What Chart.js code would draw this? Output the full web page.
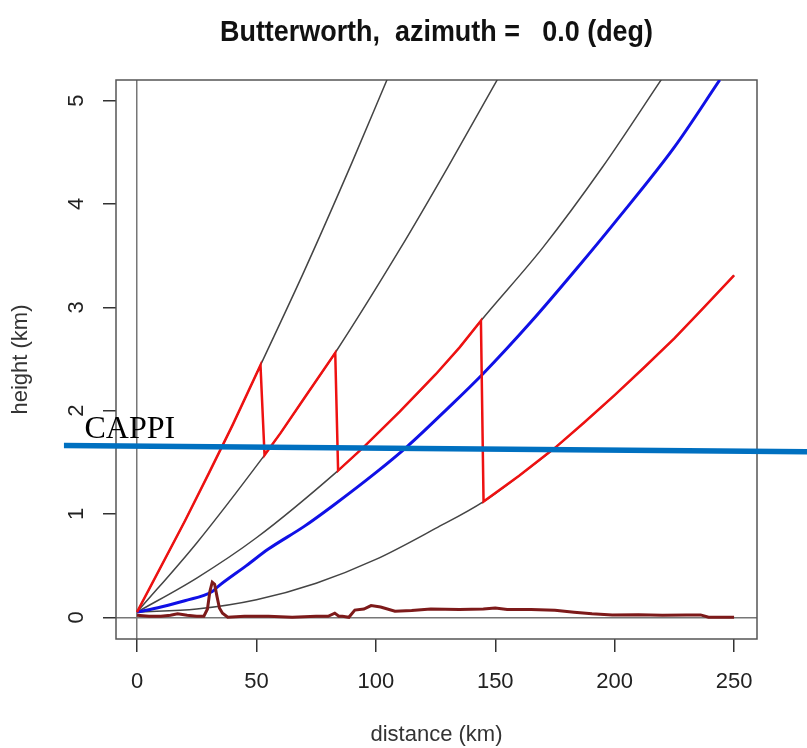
<!DOCTYPE html>
<html>
<head>
<meta charset="utf-8">
<script src="https://cdn.jsdelivr.net/npm/chart.js@4.4.1/dist/chart.umd.min.js"></script>
<style>
  html, body { margin: 0; padding: 0; background: #fff; }
</style>
</head>
<body>
<canvas id="beamChart" width="807" height="748"></canvas>
<script>
const titleText = 'Butterworth,  azimuth =   0.0 (deg)';
const xTicks = [0, 50, 100, 150, 200, 250];
const yTicks = [0, 1, 2, 3, 4, 5];

// beam centre heights (km), one array pair per elevation
const beam1X = [0, 20, 30, 40, 51.7, 70, 90, 105];
const beam1Y = [0.05, 0.93, 1.39, 1.86, 2.44, 3.35, 4.40, 5.22];
const beam2X = [0, 25, 53.4, 60, 70, 83, 110, 130, 152];
const beam2Y = [0.05, 0.72, 1.57, 1.78, 2.12, 2.56, 3.56, 4.35, 5.25];
const beam3X = [0, 25, 50, 84.2, 95, 110, 125, 135, 144, 170, 195, 220];
const beam3Y = [0.05, 0.38, 0.77, 1.42, 1.65, 1.99, 2.35, 2.61, 2.87, 3.58, 4.36, 5.22];
const beam4X = [0, 25, 50, 75, 100, 125, 145.1, 160, 175, 187, 200, 212, 225, 237, 250];
const beam4Y = [0.05, 0.08, 0.17, 0.33, 0.56, 0.86, 1.12, 1.37, 1.64, 1.88, 2.15, 2.41, 2.70, 2.99, 3.31];

// red: the beam actually used at each range
const usedX = [0, 20, 30, 40, 51.7, 53.4, 60, 70, 83, 84.2, 95, 110, 125, 135, 144, 145.1,
  160, 175, 187, 200, 212, 225, 237, 250];
const usedY = [0.05, 0.93, 1.39, 1.86, 2.44, 1.57, 1.78, 2.12, 2.56, 1.42, 1.65, 1.99, 2.35, 2.61, 2.87, 1.12,
  1.37, 1.64, 1.88, 2.15, 2.41, 2.70, 2.99, 3.31];

// blue curve
const blueX = [0, 10, 20, 31.5, 34, 45.8, 55, 70, 82, 100, 113, 130, 145, 165, 185, 200, 225, 244];
const blueY = [0.05, 0.10, 0.16, 0.25, 0.30, 0.50, 0.66, 0.88, 1.08, 1.40, 1.65, 2.02, 2.36, 2.86, 3.40, 3.82, 4.55, 5.2];

// terrain profile
const terrainX = [0, 5, 10, 14, 17, 21, 25, 28, 29.5, 30.5, 31.5, 32.5, 33.5, 34.5, 35.8, 38, 45, 55, 65, 75,
  80, 82.8, 84.5, 86, 88.7, 91.2, 95, 98, 102, 108, 115, 123, 135, 145, 150, 155, 165, 175, 183, 190.5,
  199, 210, 220, 230, 236, 239.3, 245, 250];
const terrainY = [0.02, 0.01, 0.01, 0.02, 0.034, 0.02, 0.01, 0.01, 0.08, 0.25, 0.34, 0.32, 0.2, 0.09, 0.04, 0.0, 0.01, 0.01, 0.0, 0.01,
  0.01, 0.04, 0.01, 0.01, 0.0, 0.07, 0.08, 0.113, 0.1, 0.058, 0.065, 0.08, 0.075, 0.08, 0.09, 0.075, 0.075, 0.069, 0.05, 0.034,
  0.023, 0.025, 0.02, 0.023, 0.023, 0.0, 0.0, 0.0];

// CAPPI level drawn across the figure
const cappiX = [-30.6, 280.6];
const cappiY = [1.663, 1.602];
const cappiLabel = 'CAPPI';
const cappiLabelAt = [-22, 1.74];

function pts(xs, ys) {
  return xs.map((x, i) => ({ x: x, y: ys[i] }));
}

function lineSet(label, xs, ys, color, width, extra) {
  return Object.assign({
    label: label,
    data: pts(xs, ys),
    borderColor: color,
    backgroundColor: color,
    borderWidth: width,
    showLine: true,
    pointRadius: 0,
    pointHoverRadius: 0,
    fill: false,
    tension: 0
  }, extra || {});
}

const smooth = { cubicInterpolationMode: 'monotone' };

// box round the plot region, like R's box()
const boxPlugin = {
  id: 'rBox',
  beforeDatasetsDraw(chart) {
    const { ctx, chartArea: a } = chart;
    ctx.save();
    ctx.strokeStyle = '#555';
    ctx.lineWidth = 1.5;
    ctx.strokeRect(a.left, a.top, a.right - a.left, a.bottom - a.top);
    ctx.restore();
  }
};

// bold title, a bit condensed
const titlePlugin = {
  id: 'rTitle',
  afterDraw(chart) {
    const { ctx, chartArea: a } = chart;
    ctx.save();
    ctx.font = 'bold 30px "Liberation Sans", Arial, sans-serif';
    ctx.fillStyle = '#111';
    ctx.textAlign = 'center';
    ctx.textBaseline = 'alphabetic';
    const w = ctx.measureText(titleText).width;
    ctx.translate((a.left + a.right) / 2, 41);
    ctx.scale(433 / w, 1);
    ctx.fillText(titleText, 0, 0);
    ctx.restore();
  }
};

const cappiPlugin = {
  id: 'cappiText',
  afterDraw(chart) {
    const { ctx, scales } = chart;
    ctx.save();
    ctx.font = '32px "Liberation Serif", "Times New Roman", serif';
    ctx.fillStyle = '#000';
    ctx.textAlign = 'left';
    ctx.textBaseline = 'alphabetic';
    ctx.fillText(cappiLabel, scales.x.getPixelForValue(cappiLabelAt[0]), scales.y.getPixelForValue(cappiLabelAt[1]));
    ctx.restore();
  }
};

const tickFont = { family: '"Liberation Sans", Arial, sans-serif', size: 22 };

const ctx = document.getElementById('beamChart').getContext('2d');
new Chart(ctx, {
  type: 'scatter',
  data: {
    datasets: [
      lineSet('CAPPI', cappiX, cappiY, '#0070c0', 5.5, { clip: false }),
      lineSet('terrain', terrainX, terrainY, '#7d1a1a', 3),
      lineSet('used beam', usedX, usedY, '#ee1111', 2.5),
      lineSet('blue', blueX, blueY, '#1010e6', 3, smooth),
      lineSet('beam 1', beam1X, beam1Y, '#444', 1.5, smooth),
      lineSet('beam 2', beam2X, beam2Y, '#444', 1.5, smooth),
      lineSet('beam 3', beam3X, beam3Y, '#444', 1.5, smooth),
      lineSet('beam 4', beam4X, beam4Y, '#444', 1.5, smooth)
    ]
  },
  options: {
    responsive: false,
    animation: false,
    devicePixelRatio: 1,
    layout: { padding: { top: 80, right: 50, bottom: 0, left: 0 } },
    plugins: {
      legend: { display: false },
      tooltip: { enabled: false },
      title: { display: false }
    },
    scales: {
      x: {
        type: 'linear',
        min: -8.8,
        max: 259.6,
        afterBuildTicks: s => { s.ticks = xTicks.map(v => ({ value: v })); },
        afterFit: s => { s.height = 109; },
        border: { display: false },
        grid: {
          drawOnChartArea: true,
          color: c => (c.tick && c.tick.value === 0) ? '#777' : 'rgba(0,0,0,0)',
          tickColor: '#333',
          tickLength: 13,
          lineWidth: 1.5,
          tickWidth: 1.5
        },
        ticks: { font: tickFont, color: '#222', padding: 17, maxRotation: 0, autoSkip: false },
        title: {
          display: true,
          text: 'distance (km)',
          font: tickFont,
          color: '#333',
          padding: { top: 0, bottom: 0 }
        }
      },
      y: {
        type: 'linear',
        min: -0.21,
        max: 5.2,
        afterBuildTicks: s => { s.ticks = yTicks.map(v => ({ value: v })); },
        afterFit: s => { s.width = 116; },
        border: { display: false },
        grid: {
          drawOnChartArea: true,
          color: c => (c.tick && c.tick.value === 0) ? '#777' : 'rgba(0,0,0,0)',
          tickColor: '#333',
          tickLength: 13,
          lineWidth: 1.5,
          tickWidth: 1.5
        },
        ticks: {
          font: tickFont,
          color: '#222',
          padding: 20,
          minRotation: 90,
          maxRotation: 90,
          crossAlign: 'center',
          autoSkip: false
        },
        title: {
          display: true,
          text: 'height (km)',
          font: tickFont,
          color: '#333',
          padding: { top: 8, bottom: 0 }
        }
      }
    }
  },
  plugins: [boxPlugin, titlePlugin, cappiPlugin]
});
</script>
</body>
</html>
